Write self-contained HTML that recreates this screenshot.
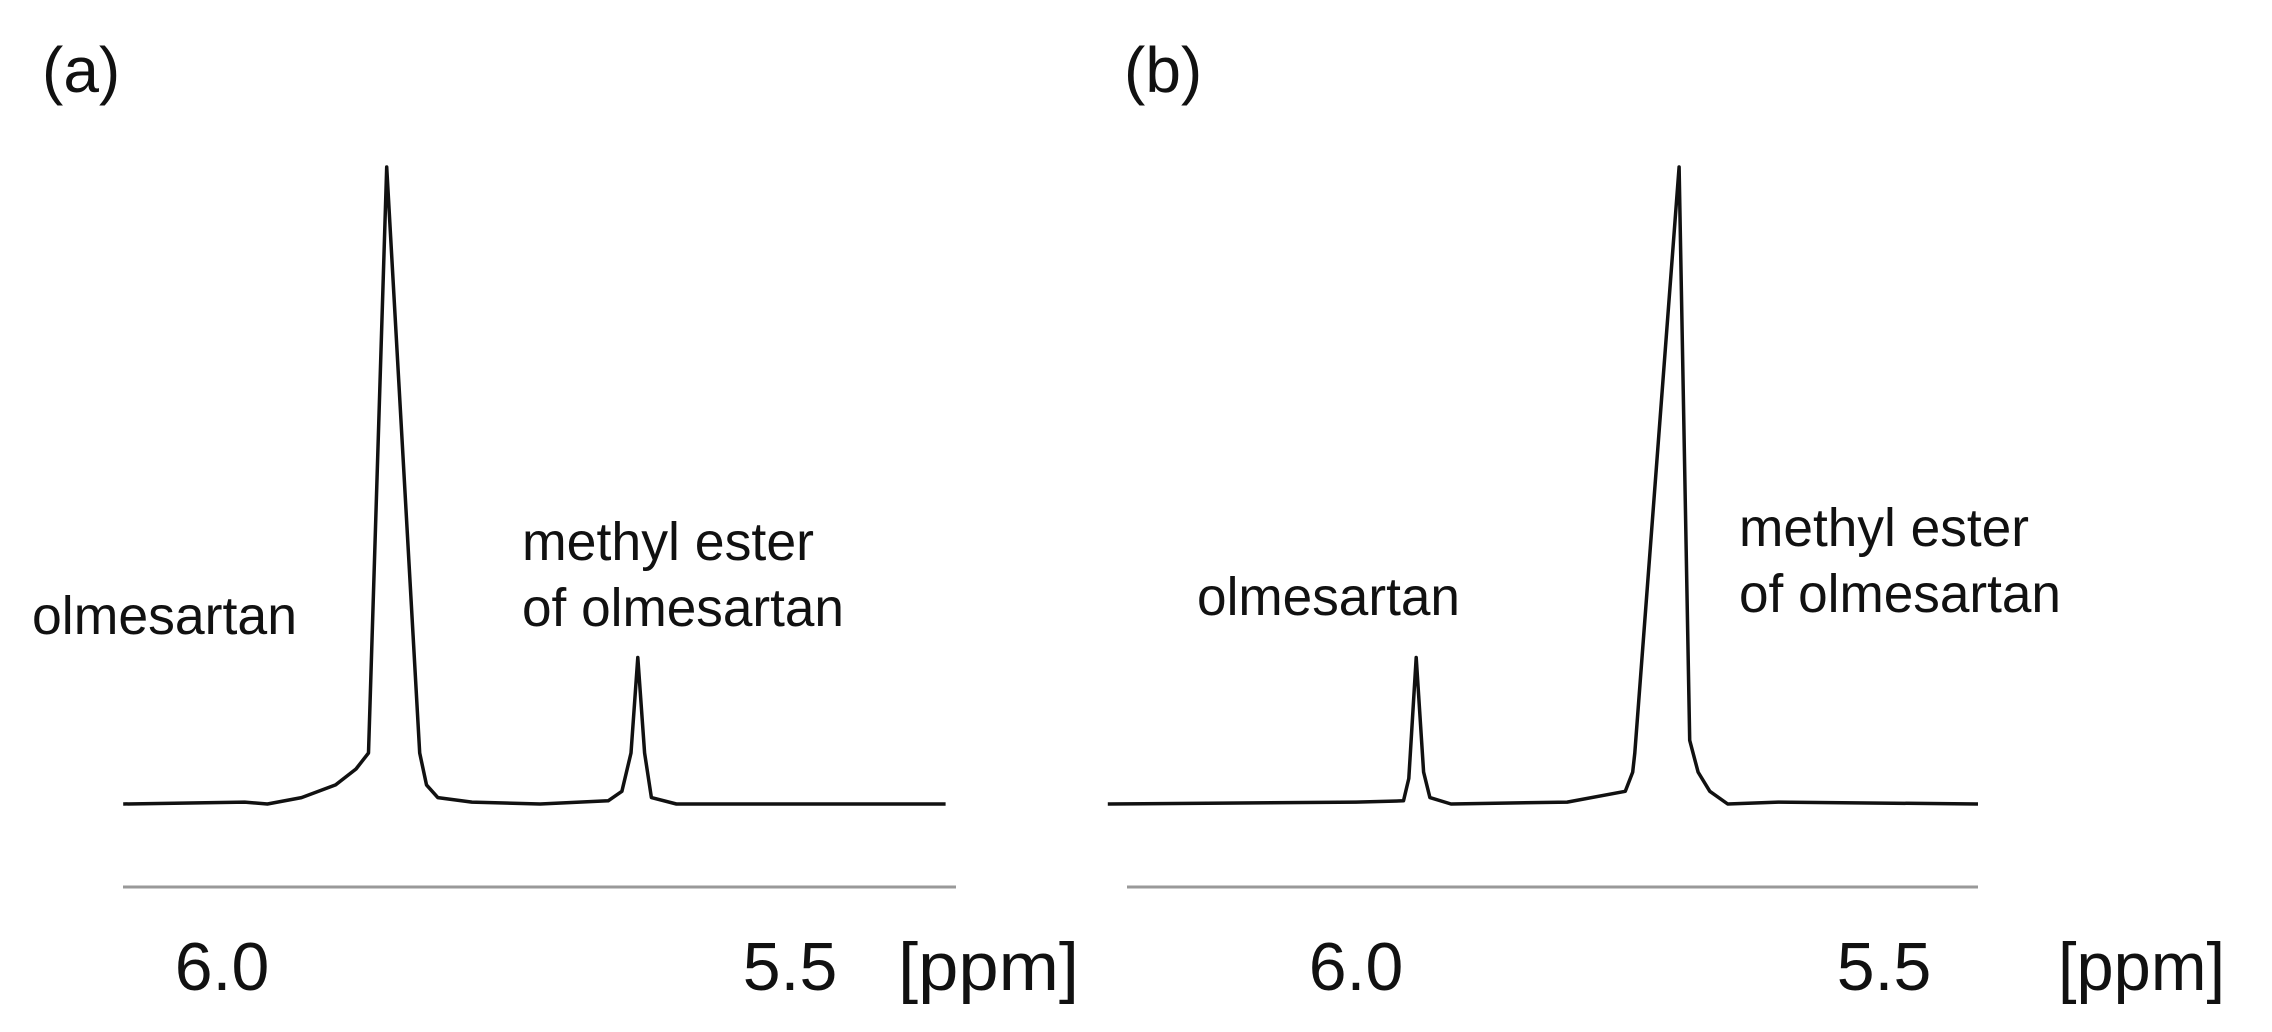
<!DOCTYPE html>
<html><head><meta charset="utf-8"><style>
html,body{margin:0;padding:0;background:#fff;}
svg{display:block;}
text{font-family:"Liberation Sans","DejaVu Sans",sans-serif;fill:#111;}
</style></head><body>
<svg id="chart" width="2272" height="1032" viewBox="0 0 2272 1032">
<text x="42" y="92" font-size="64">(a)</text>
<text x="1124" y="92" font-size="64">(b)</text>
<text x="32" y="634" font-size="54" textLength="265" lengthAdjust="spacingAndGlyphs">olmesartan</text>
<text x="522" y="560" font-size="54" textLength="292" lengthAdjust="spacingAndGlyphs">methyl ester</text>
<text x="522" y="626" font-size="54" textLength="322" lengthAdjust="spacingAndGlyphs">of olmesartan</text>
<text x="1197" y="615" font-size="54" textLength="263" lengthAdjust="spacingAndGlyphs">olmesartan</text>
<text x="1739" y="546" font-size="54" textLength="290" lengthAdjust="spacingAndGlyphs">methyl ester</text>
<text x="1739" y="612" font-size="54" textLength="322" lengthAdjust="spacingAndGlyphs">of olmesartan</text>
<g id="plots"></g>
</svg>
<script>
const ticks = [6.0, 5.5];
const tickLabels = ["6.0", "5.5"];
const ppmA = [6.087,5.98,5.96,5.93,5.90,5.882,5.871,5.855,5.826,5.82,5.81,5.78,5.72,5.66,5.648,5.640,5.634,5.628,5.622,5.60,5.50,5.363];
const intA = [0,0.3,0,1,3,5.5,8,100,8,3,1,0.3,0,0.5,2,8,23,8,1,0,0,0];
const ppmB = [6.235,6.0,5.955,5.950,5.943,5.936,5.93,5.91,5.80,5.745,5.738,5.736,5.694,5.684,5.676,5.665,5.648,5.60,5.411];
const intB = [0,0.3,0.5,4,23,5,1,0,0.3,2,5,8,100,10,5,2,0,0.3,0];
const panels = [
  {ppm: ppmA, ints: intA, x60: 222, x55: 790, axL: 123, axR: 956, unitX: 898, unitW: 181, id: 'a'},
  {ppm: ppmB, ints: intB, x60: 1356, x55: 1884, axL: 1127, axR: 1978, unitX: 2058, unitW: 167, id: 'b'}
];
const NS = 'http://www.w3.org/2000/svg';
const g = document.getElementById('plots');
const yBase = 804, yTop = 167;
const yScale = v => yBase - (yBase - yTop) * v / 100;
panels.forEach(p => {
  const xScale = v => p.x60 + (6.0 - v) * (p.x55 - p.x60) / 0.5;
  const d = p.ppm.map((v, i) => (i ? 'L' : 'M') + xScale(v).toFixed(1) + ' ' + yScale(p.ints[i]).toFixed(1)).join(' ');
  const path = document.createElementNS(NS, 'path');
  path.setAttribute('d', d);
  path.setAttribute('fill', 'none');
  path.setAttribute('stroke', '#111');
  path.setAttribute('stroke-width', '3.5');
  path.setAttribute('stroke-linejoin', 'round');
  
  
  g.appendChild(path);
  const ax = document.createElementNS(NS, 'line');
  ax.setAttribute('x1', p.axL); ax.setAttribute('x2', p.axR);
  ax.setAttribute('y1', 887); ax.setAttribute('y2', 887);
  ax.setAttribute('stroke', '#999'); ax.setAttribute('stroke-width', '3');
  
  
  g.appendChild(ax);
  ticks.forEach((t, i) => {
    const tx = document.createElementNS(NS, 'text');
    tx.setAttribute('x', xScale(t)); tx.setAttribute('y', 990);
    tx.setAttribute('font-size', '68'); tx.setAttribute('text-anchor', 'middle');
    tx.textContent = tickLabels[i];
    
    
    g.appendChild(tx);
  });
  const u = document.createElementNS(NS, 'text');
  u.setAttribute('x', p.unitX); u.setAttribute('y', 990);
  u.setAttribute('font-size', '68');
  u.setAttribute('textLength', p.unitW);
  u.setAttribute('lengthAdjust', 'spacingAndGlyphs');
  u.textContent = '[ppm]';
  
  
  g.appendChild(u);
});
</script>
</body></html>
